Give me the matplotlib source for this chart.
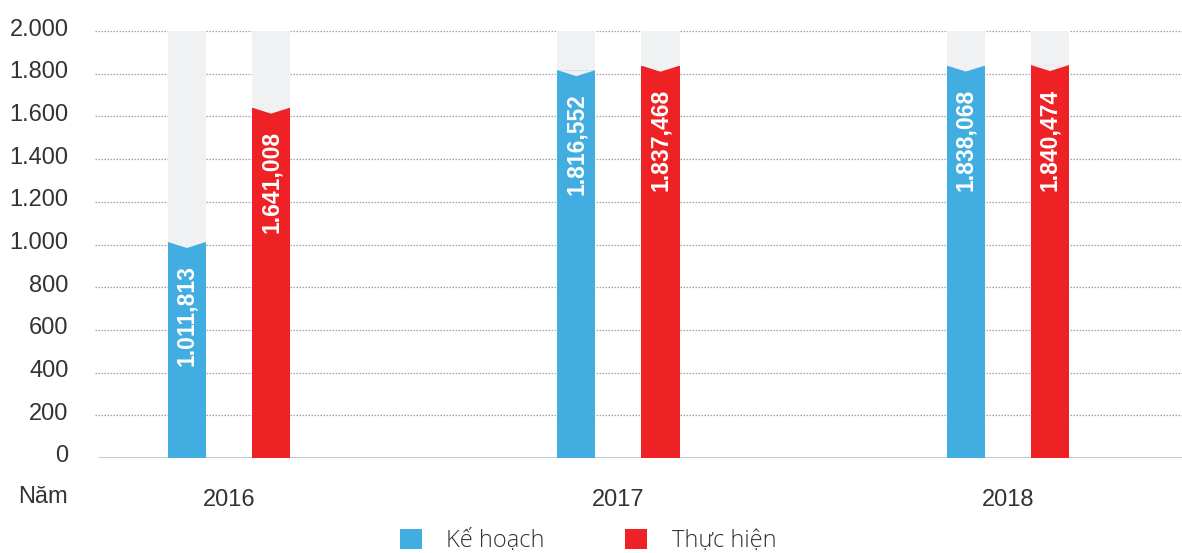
import matplotlib
matplotlib.use("Agg")
import matplotlib.pyplot as plt
import matplotlib.transforms as mtransforms
from matplotlib.patches import Patch, Polygon
import numpy as np

years = ["2016", "2017", "2018"]
ke_hoach = [1011.813, 1816.552, 1838.068]
thuc_hien = [1641.008, 1837.468, 1840.474]
yticks = [0, 200, 400, 600, 800, 1000, 1200, 1400, 1600, 1800, 2000]
ytick_labels = ["0", "200", "400", "600", "800", "1.000", "1.200", "1.400", "1.600", "1.800", "2.000"]
series_names = ["Kế hoạch", "Thực hiện"]

BLUE = "#41ADE1"
RED = "#EE2224"
GRAY = "#F0F1F3"
TXT = "#333333"

plt.rcParams['font.family'] = ['Liberation Sans', 'DejaVu Sans']

fig = plt.figure(figsize=(11.82, 5.53), dpi=100)
ax = fig.add_axes([95/1182, (553-458)/553, 1-95/1182, (458-31)/553])

x = np.arange(len(years))
w = 0.0976
off = 0.108
ymax = 2000
notch = 28

def fmt(v):
    s = f"{v:,.3f}"
    return s.replace(",", "X").replace(".", ",").replace("X", ".")

for xs, vals, col in [(x - off, ke_hoach, BLUE), (x + off, thuc_hien, RED)]:
    ax.bar(xs, [ymax]*len(vals), width=w, color=GRAY, zorder=2)
    ax.bar(xs, vals, width=w, color=col, zorder=3)
    for xi, v in zip(xs, vals):
        tri = Polygon([[xi - w/2, v], [xi + w/2, v], [xi, v - notch]], closed=True,
                      facecolor=GRAY, edgecolor='none', zorder=4)
        ax.add_patch(tri)
        ax.text(xi, v - 110, fmt(v), rotation=90, ha='center', va='top',
                color='white', fontsize=16.5, fontweight='bold', zorder=5)

ax.set_xlim(-0.344, 2.447)
ax.set_ylim(0, ymax)
ax.set_yticks(yticks)
ax.set_yticklabels(ytick_labels)
ax.set_xticks(x)
ax.set_xticklabels(years)
ax.tick_params(axis='both', length=0, labelsize=17, colors=TXT)
ax.tick_params(axis='x', pad=22)
ax.tick_params(axis='y', pad=19)
shift = mtransforms.ScaledTranslation(0, 4/100, fig.dpi_scale_trans)
for lab in ax.get_yticklabels():
    lab.set_transform(lab.get_transform() + shift)
for s in ax.spines.values():
    s.set_visible(False)
ax.set_axisbelow(True)
ax.yaxis.grid(True, linestyle=(0, (1.2, 1.2)), color="#A0A0A0", linewidth=0.9, zorder=0)
ax.axhline(0, color="#C8C8D0", linewidth=2.2, zorder=1, xmin=5/1087)

fig.text(18/1182, 1 - 497/553, "Năm", fontsize=17, color=TXT, ha='left', va='center')

handles = [Patch(facecolor=BLUE, edgecolor='none'), Patch(facecolor=RED, edgecolor='none')]
leg = fig.legend(handles, series_names, loc='center', bbox_to_anchor=(588/1182, 1 - 541/553),
                 ncol=2, frameon=False, handlelength=0.93, handleheight=0.93,
                 handletextpad=1.05, columnspacing=3.4,
                 prop={'family': ['Open Sans', 'DejaVu Sans'], 'size': 17, 'weight': 'light'})
for t in leg.get_texts():
    t.set_color(TXT)

fig.savefig("out.png", dpi=100)
